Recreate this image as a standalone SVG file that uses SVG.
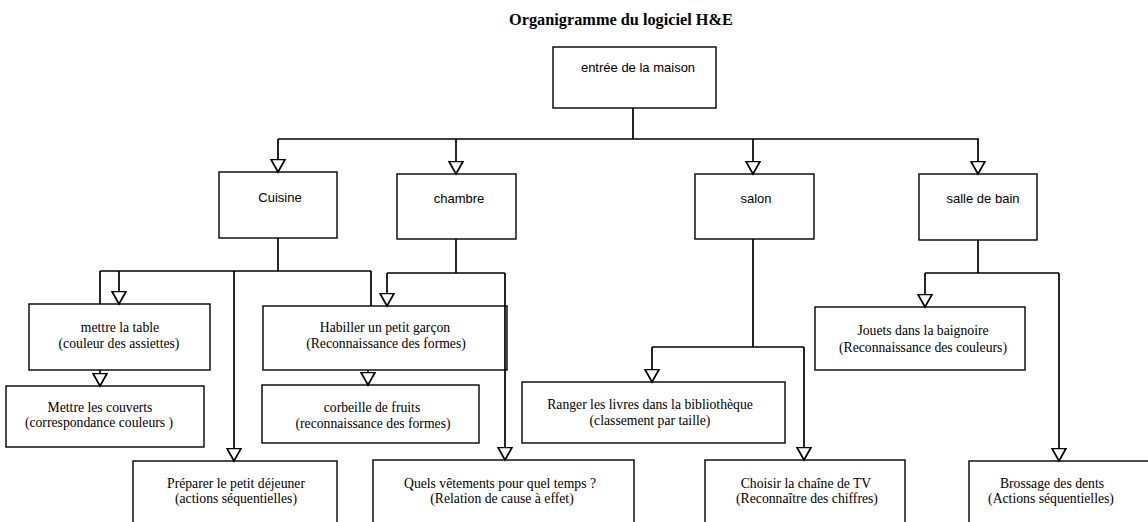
<svg xmlns="http://www.w3.org/2000/svg" width="1148" height="522" viewBox="0 0 1148 522">
<style>
  .box { fill: #ffffff; stroke: #000000; stroke-width: 1.4; }
  .sans { font-family: "Liberation Sans", Arial, sans-serif; font-size: 13px; fill: #000; text-anchor: middle; }
  .serif { font-family: "Liberation Serif", "Times New Roman", serif; font-size: 13.7px; fill: #000; text-anchor: middle; }
  .title { font-family: "Liberation Serif", "Times New Roman", serif; font-size: 16.3px; font-weight: bold; fill: #000; text-anchor: middle; }
  .wire { fill: none; stroke: #000000; stroke-width: 1.7; }
  .arr { fill: none; stroke: #000000; stroke-width: 1.7; marker-end: url(#tri); }
</style>
<defs>
  <marker id="tri" markerUnits="userSpaceOnUse" viewBox="-1 -8 15 16" refX="12.5" refY="0" markerWidth="15" markerHeight="16" orient="auto">
    <path d="M0,-7 L12.5,0 L0,7 Z" fill="#ffffff" stroke="#000000" stroke-width="1.7" stroke-linejoin="miter"/>
  </marker>
</defs>
<rect width="1148" height="522" fill="#ffffff"/>
<text class="title" x="621" y="25">Organigramme du logiciel H&amp;E</text>

<g id="root">
  <rect class="box" x="553" y="47" width="163" height="61"/>
  <text class="sans" x="638" y="72">entrée de la maison</text>
</g>
<g id="cuisine">
  <rect class="box" x="219" y="172" width="118" height="66"/>
  <text class="sans" x="280" y="202">Cuisine</text>
</g>
<g id="chambre">
  <rect class="box" x="397" y="174" width="119" height="65"/>
  <text class="sans" x="459" y="203">chambre</text>
</g>
<g id="salon">
  <rect class="box" x="695" y="174" width="119" height="65"/>
  <text class="sans" x="756" y="203">salon</text>
</g>
<g id="salle-de-bain">
  <rect class="box" x="919" y="174" width="118" height="66"/>
  <text class="sans" x="983" y="203">salle de bain</text>
</g>
<g id="mettre-table">
  <rect class="box" x="29" y="304" width="181" height="66"/>
  <text class="serif" x="120" y="332">mettre la table</text>
  <text class="serif" x="119" y="348">(couleur des assiettes)</text>
</g>
<g id="mettre-couverts">
  <rect class="box" x="6" y="386" width="198" height="61"/>
  <text class="serif" x="100" y="412">Mettre les couverts</text>
  <text class="serif" x="99" y="427">(correspondance couleurs )</text>
</g>
<g id="habiller">
  <rect class="box" x="263" y="306" width="244" height="64"/>
  <text class="serif" x="385" y="332">Habiller un petit garçon</text>
  <text class="serif" x="386" y="348">(Reconnaissance des formes)</text>
</g>
<g id="corbeille">
  <rect class="box" x="262" y="385" width="217" height="58"/>
  <text class="serif" x="372" y="412">corbeille de fruits</text>
  <text class="serif" x="373" y="428">(reconnaissance des formes)</text>
</g>
<g id="ranger">
  <rect class="box" x="522" y="382" width="263" height="61"/>
  <text class="serif" x="650" y="409">Ranger les livres dans la bibliothèque</text>
  <text class="serif" x="650" y="425">(classement par taille)</text>
</g>
<g id="jouets">
  <rect class="box" x="815" y="307" width="210" height="63"/>
  <text class="serif" x="923" y="335">Jouets dans la baignoire</text>
  <text class="serif" x="923" y="352">(Reconnaissance des couleurs)</text>
</g>
<g id="preparer">
  <rect class="box" x="133" y="461" width="204" height="70"/>
  <text class="serif" x="236" y="488">Préparer le petit déjeuner</text>
  <text class="serif" x="236" y="503">(actions séquentielles)</text>
</g>
<g id="quels">
  <rect class="box" x="373" y="460" width="261" height="70"/>
  <text class="serif" x="500" y="488">Quels vêtements pour quel temps ?</text>
  <text class="serif" x="502" y="503">(Relation de cause à effet)</text>
</g>
<g id="choisir">
  <rect class="box" x="705" y="460" width="200" height="70"/>
  <text class="serif" x="806" y="488">Choisir la chaîne de TV</text>
  <text class="serif" x="807" y="503">(Reconnaître des chiffres)</text>
</g>
<g id="brossage">
  <rect class="box" x="969" y="461" width="190" height="70"/>
  <text class="serif" x="1052" y="488">Brossage des dents</text>
  <text class="serif" x="1051" y="503">(Actions séquentielles)</text>
</g>

<g id="connectors">
  <path class="wire" d="M633,108 V139 M278,139 H979"/>
  <path class="arr" d="M278,139 V172"/>
  <path class="arr" d="M456,139 V174"/>
  <path class="arr" d="M753,139 V174"/>
  <path class="arr" d="M978,139 V174"/>

  <path class="wire" d="M278,238 V271 M100,271 H371 M100,271 V304 M371,271 V306"/>
  <path class="arr" d="M119,271 V304"/>
  <path class="arr" d="M234,271 V461"/>
  <path class="arr" d="M100,370 V386"/>

  <path class="wire" d="M456,239 V273 M387,273 H505"/>
  <path class="arr" d="M387,273 V306"/>
  <path class="arr" d="M505,273 V460"/>
  <path class="arr" d="M368,370 V385"/>

  <path class="wire" d="M753,239 V347 M652,347 H804"/>
  <path class="arr" d="M652,347 V382"/>
  <path class="arr" d="M804,347 V460"/>

  <path class="wire" d="M978,240 V273 M925,273 H1059"/>
  <path class="arr" d="M925,273 V307"/>
  <path class="arr" d="M1059,273 V461"/>
</g>
</svg>
